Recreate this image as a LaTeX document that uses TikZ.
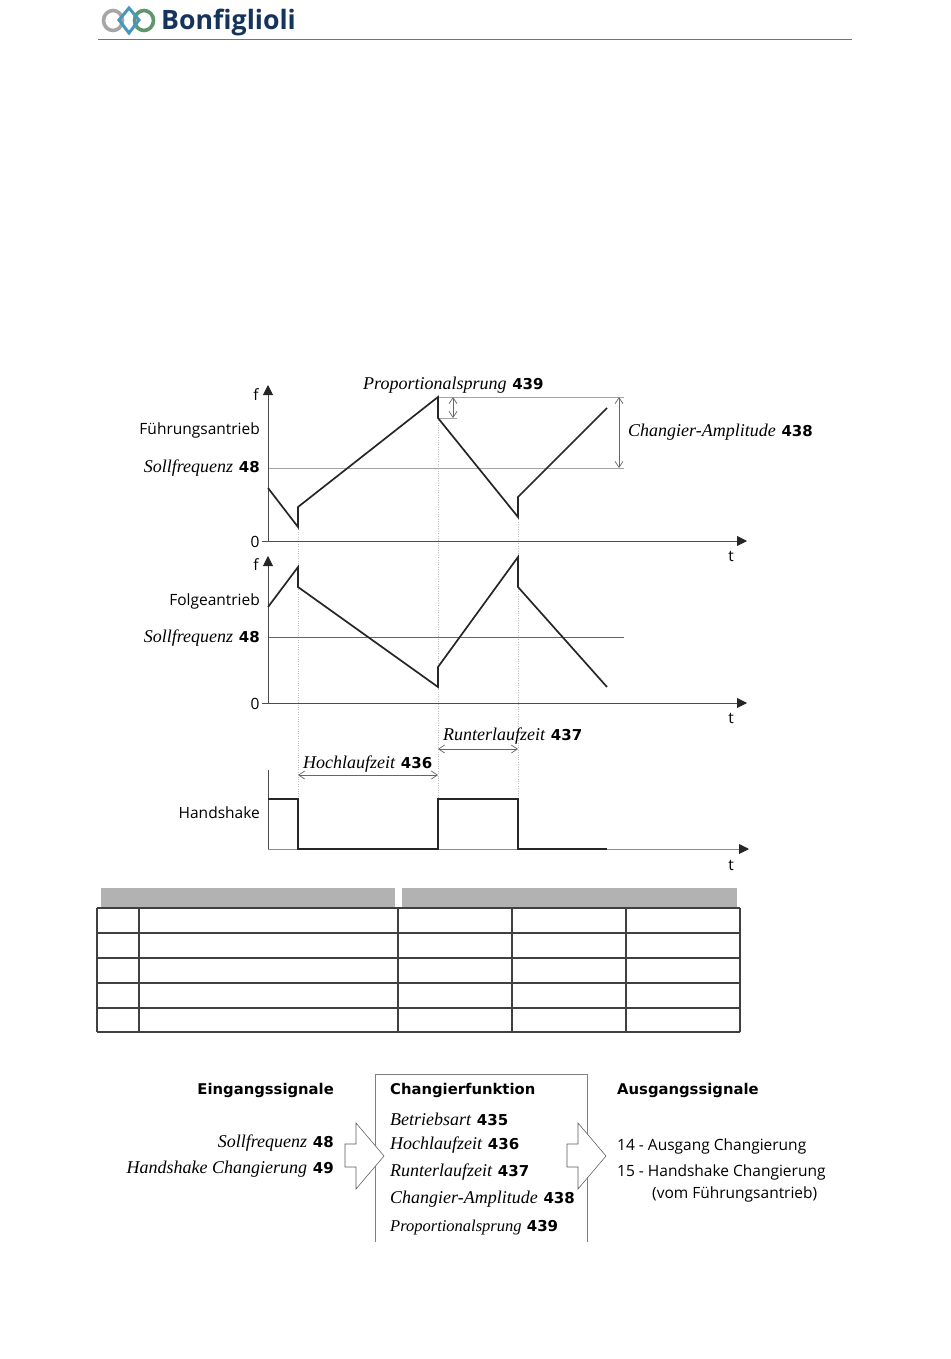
\documentclass[tikz,border=0pt]{standalone}
\usepackage{fontspec}
\usepackage{xcolor}
\setmainfont{DejaVu Sans}
\newfontfamily\serifit{Liberation Serif}[ItalicFont=* Italic]
\newfontfamily\labelfont{Open Sans}
\newfontfamily\logofont{Open Sans}[BoldFont=* Bold]
\usetikzlibrary{arrows.meta, positioning}
\definecolor{bonfblue}{RGB}{20,52,92}
\definecolor{bonfgreen}{RGB}{95,150,110}
\definecolor{bonfsky}{RGB}{70,150,190}
\definecolor{bargray}{RGB}{178,178,178}
\definecolor{refgray}{RGB}{165,165,165}
\newcommand{\param}[2]{{\serifit\itshape #1} {\fontsize{15}{16}\selectfont\bfseries #2}}
\tikzset{
  plainlabel/.style={inner sep=0pt, font=\labelfont\fontsize{15.5}{18}\selectfont},
  paramlabel/.style={inner sep=0pt, font=\fontsize{18}{20}\selectfont},
  headlabel/.style={inner sep=0pt, font=\fontsize{14.8}{18}\selectfont\bfseries},
  axis/.style={-{Triangle[length=10pt,width=10pt,color=black!85]}, line width=0.9pt, color=black!70},
  signal/.style={line width=1.7pt, color=black!85, line join=miter},
  refline/.style={line width=1pt, color=refgray},
  refdark/.style={line width=0.9pt, color=black!60},
  guide/.style={dotted, line width=0.4pt, color=black!25},
  dimarrow/.style={{Straight Barb[length=6pt,width=8pt]}-{Straight Barb[length=6pt,width=8pt]}, line width=0.7pt, color=black!60},
  gridline/.style={line width=1.3pt, color=black!75},
  blockarrow/.style={line width=0.55pt, color=black!65, fill=white},
  bar/.style={fill=bargray, draw=none}
}
\begin{document}
\begin{tikzpicture}[x=1pt, y=-1pt]
  \useasboundingbox (0,0) rectangle (950,1359);

  % Header
  \draw[line width=3.6pt, color=gray!70] (113,20.5) ellipse (9.5 and 10);
  \draw[line width=3.6pt, color=bonfgreen] (144,20.5) ellipse (9.5 and 10);
  \draw[line width=3pt, color=bonfsky] (129,8) -- (139,20) -- (129,33) -- (119,20) -- cycle;
  \node[anchor=base west, inner sep=0pt, text=bonfblue, font=\logofont\fontsize{26.7}{30}\selectfont\bfseries] (logo) at (161,30) {Bonfiglioli};
  \draw[line width=0.9pt, color=black!55] (98,39.5) -- (852,39.5);

  % Coordinates of the three time marks
  \coordinate (lead0) at (268,541);
  \coordinate (lead1) at (298,527);
  \coordinate (lead2) at (438,418);
  \coordinate (lead3) at (518,517);
  \coordinate (peak) at (438,397);
  \coordinate (follow0) at (268,703);
  \coordinate (hand0) at (268,849);
  \coordinate (handtop) at (268,770);

  % Dotted guides
  \draw[guide] (lead1) -- (298,799);
  \draw[guide] (lead2) -- (438,799);
  \draw[guide] (lead3) -- (518,799);

  % Top chart
  \draw[refline] (268,468) coordinate (solla) -- (624,468) coordinate (sollb);
  \draw[refline] (peak) -- (624,397) coordinate (peakend);
  \draw[refline] (lead2) -- ++(19,0);
  \draw[axis] (lead0) -- (268,385);
  \draw[axis] (262,541) -- (747,541);
  \draw[signal] (268,488) -- (lead1) -- (298,507) -- (peak) -- (lead2) -- (lead3) -- (518,497) -- (607,408);
  \draw[dimarrow] (453,397) -- (453,418);
  \draw[dimarrow] (619,397) -- (619,468);

  % Middle chart
  \draw[refdark] (268,637) -- (624,637);
  \draw[axis] (follow0) -- (268,556);
  \draw[axis] (262,703) -- (747,703);
  \draw[signal] (268,607) -- (298,567) -- (298,587) -- (438,687) -- (438,667) -- (518,557) -- (518,587) -- (607,687);

  % Handshake chart
  \draw[line width=0.9pt, color=black!70] (hand0) -- (handtop);
  \draw[axis, color=black!45] (hand0) -- (749,849);
  \draw[signal] (268,799) -- (298,799) -- (298,849) -- (438,849) -- (438,799) -- (518,799) -- (518,849) -- (607,849);
  \draw[dimarrow] (298,775) -- (438,775);
  \draw[dimarrow] (438,749) -- (518,749);

  % Labels of the charts
  \node[plainlabel, anchor=base] (f1) at (256,400) {f};
  \node[plainlabel, anchor=base] (zero1) at (255,547) {0};
  \node[plainlabel, anchor=base] (t1) at (731,561) {t};
  \node[plainlabel, anchor=base east] (lead) at (260,434) {Führungsantrieb};
  \node[paramlabel, anchor=base east] (soll1) at (260,472) {\param{Sollfrequenz}{48}};
  \node[paramlabel, anchor=base west] (prop) at (363,389) {\param{Proportionalsprung}{439}};
  \node[paramlabel, anchor=base west] (ampl) at (628,436) {\param{Changier-Amplitude}{438}};
  \node[plainlabel, anchor=base] (f2) at (256,570) {f};
  \node[plainlabel, anchor=base east] (follow) at (260,605) {Folgeantrieb};
  \node[paramlabel, anchor=base east] (soll2) at (260,642) {\param{Sollfrequenz}{48}};
  \node[plainlabel, anchor=base] (zero2) at (255,709) {0};
  \node[plainlabel, anchor=base] (t2) at (731,723) {t};
  \node[paramlabel, anchor=base west] (down) at (443,740) {\param{Runterlaufzeit}{437}};
  \node[paramlabel, anchor=base west] (up) at (303,768) {\param{Hochlaufzeit}{436}};
  \node[plainlabel, anchor=base east] (hand) at (260,818) {Handshake};
  \node[plainlabel, anchor=base] (t3) at (731,870) {t};

  % Table
  \fill[bar] (101,888) rectangle (395,908);
  \fill[bar] (402,888) rectangle (737,908);
  \foreach \y in {908,933,958,983,1008,1032}
    \draw[gridline] (97,\y) -- (740,\y);
  \foreach \x in {97,139,398,512,626,740}
    \draw[gridline] (\x,908) -- (\x,1032);

  % Function block
  \draw[line width=1pt, color=black!50] (375,1242) -- (375,1074) -- (587,1074) -- (587,1242);
  \node[headlabel, anchor=base east] (inputs) at (334,1094) {Eingangssignale};
  \node[paramlabel, anchor=base east] (in1) at (334,1147) {\param{Sollfrequenz}{48}};
  \node[paramlabel, anchor=base east] (in2) at (334,1173) {\param{Handshake Changierung}{49}};
  \node[headlabel, anchor=base west] (func) at (390,1094) {Changierfunktion};
  \node[paramlabel, anchor=base west] (p1) at (390,1125) {\param{Betriebsart}{435}};
  \node[paramlabel, anchor=base west] (p2) at (390,1149) {\param{Hochlaufzeit}{436}};
  \node[paramlabel, anchor=base west] (p3) at (390,1176) {\param{Runterlaufzeit}{437}};
  \node[paramlabel, anchor=base west] (p4) at (390,1203) {\param{Changier-Amplitude}{438}};
  \node[paramlabel, anchor=base west, font=\fontsize{16.5}{18}\selectfont] (p5) at (390,1231) {\param{Proportionalsprung}{439}};
  \node[headlabel, anchor=base west] (outputs) at (617,1094) {Ausgangssignale};
  \node[plainlabel, anchor=base west] (out1) at (617,1150) {14 - Ausgang Changierung};
  \node[plainlabel, anchor=base west] (out2) at (617,1176) {15 - Handshake Changierung};
  \node[plainlabel, anchor=base west] (out3) at (652,1198) {(vom Führungsantrieb)};

  % Block arrows
  \foreach \dx in {0,222}
    \draw[blockarrow, shift={(\dx,0)}] (345,1144) -- (356,1144) -- (356,1123) -- (384,1156) -- (356,1189) -- (356,1167) -- (345,1167) -- cycle;

\end{tikzpicture}
\end{document}
